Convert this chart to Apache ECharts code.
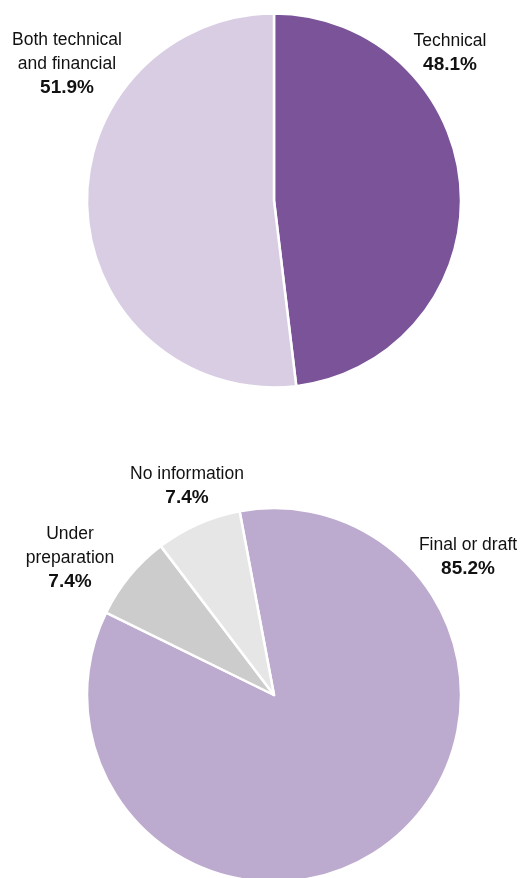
<!DOCTYPE html>
<html>
<head>
<meta charset="utf-8">
<script src="https://cdn.jsdelivr.net/npm/echarts@6/dist/echarts.min.js"></script>
<style>
html,body{margin:0;padding:0;background:#fff;}
#chart{width:531px;height:878px;}
</style>
</head>
<body>
<div id="chart"></div>
<script>
// Data
var topNames = ['Technical', 'Both technical\nand financial'];
var topValues = [48.1, 51.9];
var bottomNames = ['Final or draft', 'Under\npreparation', 'No information'];
var bottomValues = [85.2, 7.4, 7.4];

// Styling / layout (kept separate from data)
var topColors = ['#7b5399', '#d9cde4'];
var bottomColors = ['#bdabcf', '#cccccc', '#e6e6e6'];
var topLabelPos = [[450, 53], [67, 64]];
var bottomLabelPos = [[468, 557], [70, 558], [187, 486]];
var FONT = 'Liberation Sans';

function fmt(p) {
  var lines = p.name.split('\n').map(function (l) { return '{n|' + l + '}'; });
  lines.push('{p|' + p.value.toFixed(1) + '%}');
  return lines.join('\n');
}
var rich = {
  n: {fontFamily: FONT, fontSize: 17.5, color: '#111', lineHeight: 23.5},
  p: {fontFamily: FONT, fontSize: 19, fontWeight: 'bold', color: '#111', lineHeight: 23.5}
};
function mkData(names, values, colors) {
  return names.map(function (n, i) {
    return {name: n, value: values[i], itemStyle: {color: colors[i]}};
  });
}
function layoutFor(pos) {
  return function (params) {
    var p = pos[params.dataIndex];
    return {x: p[0], y: p[1], align: 'center', verticalAlign: 'middle'};
  };
}

var chart = echarts.init(document.getElementById('chart'), null, {renderer: 'canvas'});
chart.setOption({
  animation: false,
  backgroundColor: '#ffffff',
  series: [
    {
      type: 'pie',
      center: [274, 200.5],
      radius: [0, 187],
      startAngle: 90,
      clockwise: true,
      avoidLabelOverlap: false,
      itemStyle: {borderColor: '#ffffff', borderWidth: 2.5},
      label: {show: true, position: 'outside', formatter: fmt, rich: rich, align: 'center'},
      labelLine: {show: false},
      labelLayout: layoutFor(topLabelPos),
      emphasis: {disabled: true},
      data: mkData(topNames, topValues, topColors)
    },
    {
      type: 'pie',
      center: [274, 695],
      radius: [0, 187],
      startAngle: 100.6,
      clockwise: true,
      avoidLabelOverlap: false,
      itemStyle: {borderColor: '#ffffff', borderWidth: 2.5},
      label: {show: true, position: 'outside', formatter: fmt, rich: rich, align: 'center'},
      labelLine: {show: false},
      labelLayout: layoutFor(bottomLabelPos),
      emphasis: {disabled: true},
      data: mkData(bottomNames, bottomValues, bottomColors)
    }
  ]
});
</script>
</body>
</html>
